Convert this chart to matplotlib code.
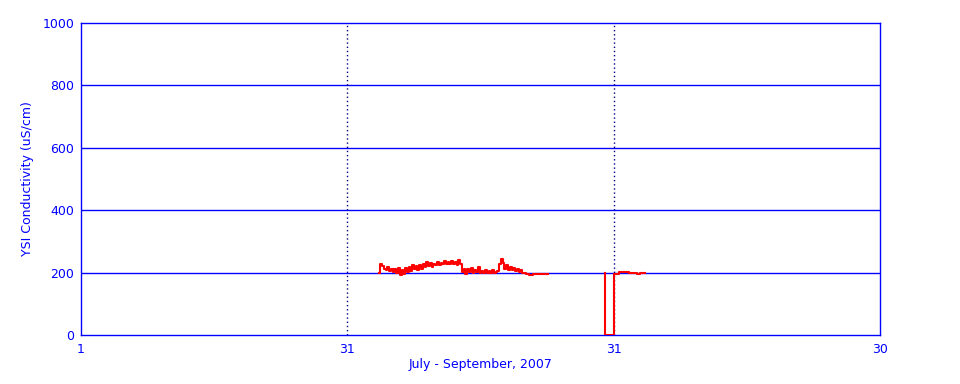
import numpy as np
import matplotlib
matplotlib.use("Agg")
import matplotlib.pyplot as plt

# x axis: days since July 1 (0) .. September 30 (90)
tick_days = [0, 30, 60, 90]
tick_labels = ["1", "31", "31", "30"]

# first stretch of conductivity record (mid August)
seg1_start = 33.6
seg1_end = 52.6
seg1_vals = [200, 228, 222, 212, 207, 218, 204, 213, 202, 212,
             198, 214, 192, 209, 196, 215, 202, 219, 206, 223,
             211, 221, 207, 225, 213, 229, 219, 233, 221, 231,
             218, 229, 223, 234, 225, 232, 226, 236, 228, 234,
             226, 237, 229, 235, 225, 239, 227, 203, 213, 197,
             211, 201, 215, 199, 209, 202, 219, 200, 206, 198,
             209, 199, 204, 198, 207, 199, 203, 205, 229, 243,
             231, 211, 223, 207, 219, 209, 215, 205, 212, 203,
             208, 200, 198, 194, 194, 193, 193, 194, 194, 195,
             194, 194, 195, 195, 196, 196]

# second stretch around end of August (step changes)
seg2_days = [59.0, 59.0, 60.0, 60.6, 61.7, 62.6, 63.0, 63.5]
seg2_vals = [200, 0, 197, 202, 200, 197, 200, 200]

blue = "#0000ff"

fig = plt.figure(figsize=(9.6, 3.84), dpi=100)
ax = fig.add_axes([0.0844, 0.1276, 0.8323, 0.8125])

seg1_days = np.linspace(seg1_start, seg1_end, len(seg1_vals))
ax.plot(seg1_days, seg1_vals, color="red", lw=1.5, drawstyle="steps-mid", zorder=3)
ax.plot(seg2_days, seg2_vals, color="red", lw=1.5, drawstyle="steps-post", zorder=3)

for y in [200, 400, 600, 800]:
    ax.axhline(y, color=blue, lw=1, zorder=1)
for d in tick_days[1:3]:
    ax.axvline(d, color="#000080", lw=1, ls=(0, (1, 2)), zorder=1)

ax.set_xlim(0, 90)
ax.set_ylim(0, 1000)
ax.set_xticks(tick_days)
ax.set_xticklabels(tick_labels)
ax.set_yticks([0, 200, 400, 600, 800, 1000])

for s in ax.spines.values():
    s.set_color(blue)
    s.set_linewidth(1)
ax.tick_params(axis="both", length=0, colors=blue, labelsize=9)
ax.tick_params(axis="x", pad=6)
ax.tick_params(axis="y", pad=5)

ax.set_xlabel("July - September, 2007", color=blue, fontsize=9, labelpad=1)
ax.set_ylabel("YSI Conductivity (uS/cm)", color=blue, fontsize=9, labelpad=6)

fig.savefig("out.png", dpi=100)
